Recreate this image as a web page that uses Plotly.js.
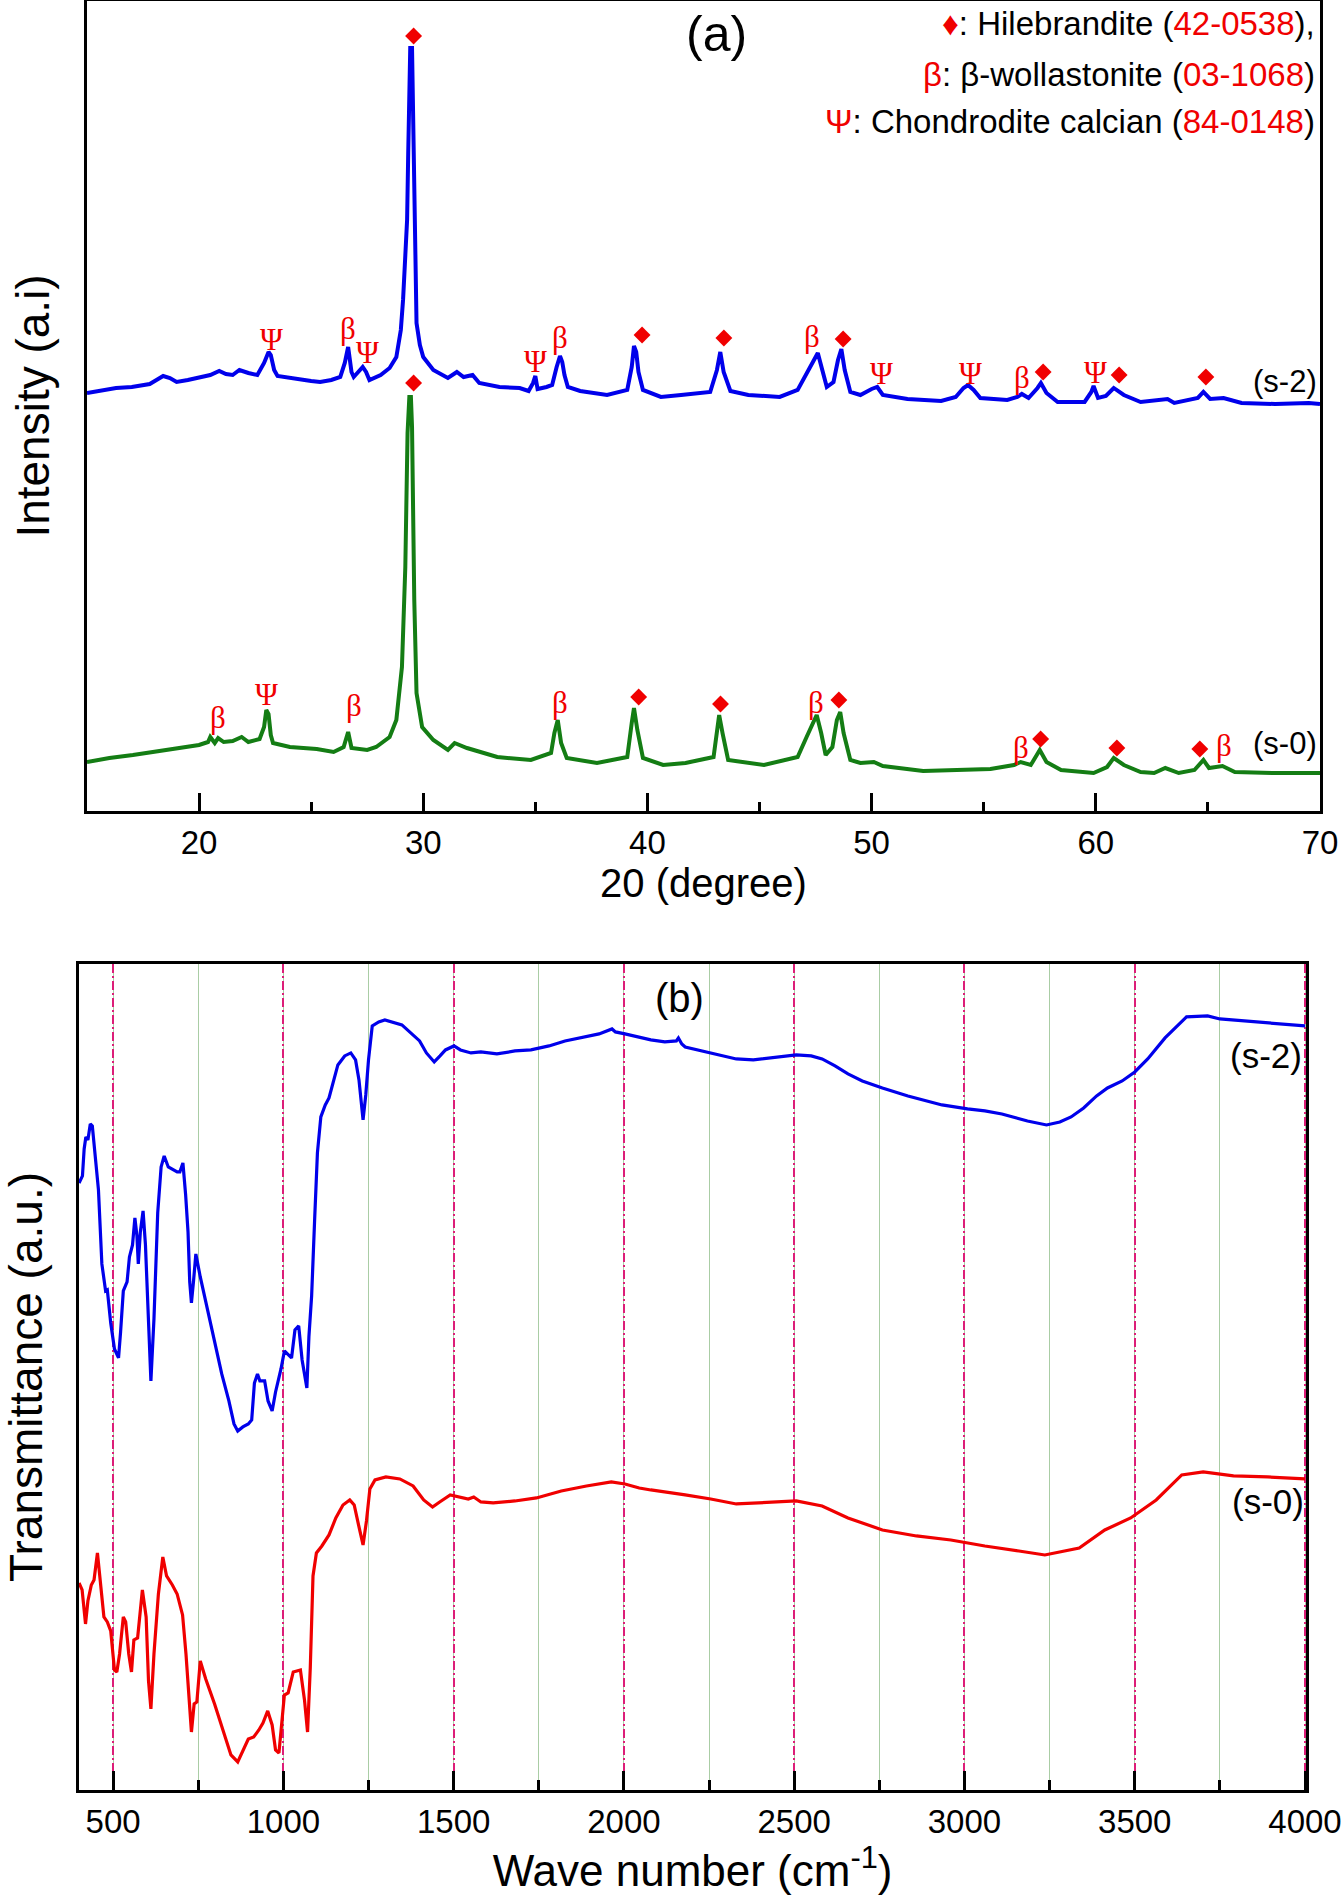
<!DOCTYPE html>
<html>
<head>
<meta charset="utf-8">
<script src="https://cdn.plot.ly/plotly-3.0.1.min.js"></script>
<style>html,body{margin:0;padding:0;background:#fff;}</style>
</head>
<body>
<div id="chart" style="width:1342px;height:1902px;"></div>
<script>
// ---------- Panel (a): XRD ----------
var xrdS2Angle = [15.0,15.6,16.3,17.0,17.8,18.1,18.4,18.7,19.0,19.5,20.0,20.5,20.9,21.2,21.5,21.8,22.2,22.6,22.9,23.1,23.2,23.35,23.5,24.0,24.5,25.0,25.4,25.9,26.3,26.5,26.65,26.8,26.9,27.1,27.3,27.45,27.6,28.1,28.5,28.8,29.0,29.1,29.2,29.28,29.33,29.38,29.42,29.5,29.55,29.6,29.65,29.7,29.85,30.0,30.45,31.1,31.5,31.8,32.2,32.5,33.4,34.3,34.7,34.9,35.0,35.1,35.5,35.75,35.95,36.1,36.2,36.3,36.45,37.0,38.2,39.1,39.3,39.4,39.5,39.6,39.8,40.6,41.5,42.8,43.1,43.25,43.4,43.7,44.5,45.9,46.7,47.1,47.4,47.6,47.8,48.0,48.3,48.5,48.65,48.8,49.05,49.5,50.0,50.25,50.5,51.6,53.1,53.75,54.1,54.3,54.55,54.85,56.05,56.5,56.7,57.0,57.4,57.55,57.8,58.3,59.5,59.8,59.9,60.1,60.45,60.8,61.25,62.0,63.2,63.5,64.55,64.8,65.1,65.7,66.5,68.0,69.5,70.0];
var xrdS2Int = [418,420,423,424,427,431,435,433,429,431,433,436,440,437,436,441,438,436,448,459,456,441,435,433,432,430,429,431,434,448,464,439,434,439,444,439,431,436,443,454,481,511,551,591,658,751,763,763,701,611,531,488,466,454,441,433,439,434,436,428,424,423,420,428,435,422,424,426,444,455,449,436,424,420,416,421,444,465,459,439,421,414,416,419,441,459,439,420,416,414,421,438,449,458,441,424,429,451,462,441,419,416,422,424,416,412,410,414,423,426,421,413,411,414,417,413,423,428,418,409,409,419,425,413,415,423,416,409,412,408,413,419,412,413,408,407,408,407];

var xrdS0Angle = [15.0,16.0,17.05,18.6,20.0,20.4,20.5,20.7,20.85,21.1,21.5,21.9,22.2,22.7,22.9,23.0,23.1,23.2,23.3,24.05,25.25,26.0,26.45,26.65,26.8,27.5,27.9,28.5,28.8,29.05,29.2,29.3,29.38,29.45,29.5,29.6,29.7,29.95,30.45,31.1,31.4,31.95,33.3,34.8,35.7,35.85,36.0,36.15,36.4,37.75,39.1,39.3,39.4,39.55,39.8,40.7,41.7,42.95,43.1,43.2,43.35,43.6,45.2,46.7,47.1,47.4,47.55,47.75,47.95,48.25,48.45,48.6,48.75,49.05,49.5,50.1,50.5,52.3,53.8,55.3,56.35,56.65,57.1,57.4,57.5,57.8,58.45,59.9,60.5,60.8,61.25,62.0,62.6,63.1,63.7,64.4,64.8,65.05,65.65,66.2,67.9,70.0];
var xrdS0Int = [49,53,56,61,66,69,74,68,73,69,70,74,69,72,84,101,97,76,68,64,62,59,64,79,63,61,64,74,91,144,244,378,414,414,384,211,118,84,71,61,68,63,54,51,58,78,91,68,53,48,54,88,103,81,53,46,48,54,84,96,78,51,46,54,74,88,96,78,56,64,91,99,78,51,48,49,45,40,41,42,46,49,46,58,61,49,41,38,44,53,46,39,38,43,38,41,51,43,45,39,38,38];

// Phase labels: H = Hilebrandite (diamond), B = beta-wollastonite, C = Chondrodite calcian
var s2PeakPhase = ['H','C','B','C','C','B','H','H','B','H','C','C','B','H','C','H','H'];
var s2PeakAngle = [29.57,23.24,26.66,27.5,35.0,36.12,39.76,43.41,47.35,48.73,50.43,54.42,56.73,57.65,60.0,61.04,64.91];
var s2PeakLevel = [775,471,482,458,449,473,476,473,474,472,437,437,433,439,438,436,434];

var s0PeakPhase = ['B','C','B','H','B','H','H','B','H','B','H','H','H','B'];
var s0PeakAngle = [20.86,23.0,26.92,29.57,36.09,39.61,43.26,47.54,48.54,56.65,57.54,60.94,64.64,65.7];
var s0PeakLevel = [94,117,106,428,109,114,107,109,111,64,72,63,62,66];

var xrdTickVals = [20,30,40,50,60,70];

// ---------- Panel (b): FTIR ----------
var ftirS2Wave = [400,410,415,420,426,433,439,446,457,467,478,483,493,504,516,522,530,541,548,557,564,570,574,580,588,595,604,611,620,631,641,650,662,677,688,696,705,713,720,725,730,736,743,756,778,803,819,840,855,866,881,897,907,915,924,931,945,955,967,977,993,1003,1014,1024,1034,1045,1055,1062,1069,1075,1083,1092,1100,1110,1123,1134,1149,1160,1180,1198,1212,1222,1234,1242,1250,1261,1280,1298,1348,1380,1400,1420,1443,1460,1476,1501,1520,1551,1580,1627,1680,1727,1780,1827,1880,1927,1965,1975,2003,2040,2079,2120,2154,2160,2170,2180,2255,2330,2380,2431,2506,2550,2582,2620,2658,2700,2759,2834,2934,3009,3060,3110,3185,3241,3280,3313,3350,3388,3420,3463,3500,3538,3589,3652,3714,3750,3790,3890,4000];
var ftirS2Trans = [607,614,641,653,650,666,664,637,600,526,499,500,467,441,432,458,499,508,533,545,572,554,526,558,579,545,462,409,471,577,623,634,623,620,618,618,627,595,558,508,487,508,536,513,480,439,416,389,366,359,363,366,370,407,416,409,409,389,379,398,421,439,435,432,460,464,430,416,402,453,494,572,637,673,685,692,710,725,734,737,730,710,670,695,730,764,768,770,765,755,749,737,728,734,740,744,740,737,738,736,739,740,744,749,753,756,761,758,756,753,750,748,749,752,746,743,737,731,730,732,735,734,731,724,716,709,702,694,685,681,679,676,669,665,668,673,682,694,702,709,718,731,752,773,774,771,770,767,764];

var ftirS0Wave = [400,409,419,426,436,444,454,463,473,483,493,504,511,519,530,537,546,554,561,572,586,597,604,611,620,633,646,657,674,688,704,714,723,730,738,746,756,772,798,825,846,866,881,897,913,928,940,954,967,977,987,1003,1014,1029,1050,1062,1071,1079,1087,1097,1113,1134,1154,1175,1195,1208,1224,1234,1244,1254,1269,1301,1342,1381,1412,1438,1459,1490,1543,1559,1580,1616,1680,1743,1816,1890,1963,2003,2045,2079,2180,2255,2330,2431,2506,2582,2658,2759,2859,2960,3060,3160,3236,3337,3412,3488,3563,3638,3701,3790,3890,4000];
var ftirS0Trans = [207,200,166,189,205,210,237,205,173,168,159,120,118,136,173,168,136,118,150,152,200,173,109,81,136,196,233,214,205,196,175,136,86,58,86,88,129,111,86,58,35,28,40,51,53,60,67,79,65,40,37,95,97,118,120,90,58,122,214,237,244,255,272,285,290,285,260,245,269,301,310,313,311,304,290,283,288,295,291,293,288,287,289,292,299,304,308,306,302,300,295,291,286,288,289,284,272,260,254,250,244,239,235,242,260,272,290,315,318,314,313,311];

var ftirTickVals = [500,1000,1500,2000,2500,3000,3500,4000];

// ---------- Build ----------
var RED = 'rgb(240,0,0)';
var greekFont = {family: 'Liberation Serif, Times New Roman, serif', size: 31, color: RED};
var symbolOf = {B: 'β', C: 'Ψ'};

function diamondsOf(phase, ang, lev) {
  var xs = [], ys = [];
  for (var i = 0; i < phase.length; i++) if (phase[i] === 'H') { xs.push(ang[i]); ys.push(lev[i]); }
  return {x: xs, y: ys};
}
function greekAnnots(phase, ang, lev) {
  var out = [];
  for (var i = 0; i < phase.length; i++) if (phase[i] !== 'H') {
    out.push({x: ang[i], y: lev[i], xref: 'x', yref: 'y', text: symbolOf[phase[i]],
      showarrow: false, font: greekFont, xanchor: 'center', yanchor: 'middle', borderpad: 0});
  }
  return out;
}
var d2 = diamondsOf(s2PeakPhase, s2PeakAngle, s2PeakLevel);
var d0 = diamondsOf(s0PeakPhase, s0PeakAngle, s0PeakLevel);

var traces = [
  {x: xrdS2Angle, y: xrdS2Int, xaxis: 'x', yaxis: 'y', mode: 'lines', name: 's-2',
   line: {color: 'rgb(0,0,235)', width: 4}},
  {x: xrdS0Angle, y: xrdS0Int, xaxis: 'x', yaxis: 'y', mode: 'lines', name: 's-0',
   line: {color: 'rgb(20,125,20)', width: 4}},
  {x: d2.x.concat(d0.x), y: d2.y.concat(d0.y), xaxis: 'x', yaxis: 'y', mode: 'markers',
   name: 'Hilebrandite', marker: {symbol: 'diamond', size: 13, color: RED, line: {width: 0}}},
  {x: ftirS2Wave, y: ftirS2Trans, xaxis: 'x2', yaxis: 'y2', mode: 'lines', name: 's-2 FTIR',
   line: {color: 'rgb(0,0,235)', width: 3.2}},
  {x: ftirS0Wave, y: ftirS0Trans, xaxis: 'x2', yaxis: 'y2', mode: 'lines', name: 's-0 FTIR',
   line: {color: 'rgb(240,0,0)', width: 3.2}}
];

var sansFont = 'Liberation Sans, Arial, Helvetica, sans-serif';
var redSpan = function (t) { return '<span style="color:' + RED + '">' + t + '</span>'; };

var annotations = []
  .concat(greekAnnots(s2PeakPhase, s2PeakAngle, s2PeakLevel))
  .concat(greekAnnots(s0PeakPhase, s0PeakAngle, s0PeakLevel))
  .concat([
    {x: 43.08, y: 777, xref: 'x', yref: 'y', text: '(a)', showarrow: false,
     font: {family: sansFont, size: 50, color: '#000'}},
    {x: 69.87, y: 787, xref: 'x', yref: 'y', xanchor: 'right', showarrow: false,
     text: redSpan('♦') + ': Hilebrandite (' + redSpan('42-0538') + '),',
     font: {family: sansFont, size: 33, color: '#000'}},
    {x: 69.87, y: 736, xref: 'x', yref: 'y', xanchor: 'right', showarrow: false,
     text: redSpan('β') + ': β-wollastonite (' + redSpan('03-1068') + ')',
     font: {family: sansFont, size: 33, color: '#000'}},
    {x: 69.87, y: 689, xref: 'x', yref: 'y', xanchor: 'right', showarrow: false,
     text: redSpan('Ψ') + ': Chondrodite calcian (' + redSpan('84-0148') + ')',
     font: {family: sansFont, size: 33, color: '#000'}},
    {x: 69.96, y: 429, xref: 'x', yref: 'y', xanchor: 'right', showarrow: false, text: '(s-2)',
     font: {family: sansFont, size: 31, color: '#000'}},
    {x: 69.96, y: 68, xref: 'x', yref: 'y', xanchor: 'right', showarrow: false, text: '(s-0)',
     font: {family: sansFont, size: 31, color: '#000'}},
    {x: 2162, y: 792, xref: 'x2', yref: 'y2', text: '(b)', showarrow: false,
     font: {family: sansFont, size: 40, color: '#000'}},
    {x: 3998, y: 734, xref: 'x2', yref: 'y2', xanchor: 'right', showarrow: false, text: '(s-2)',
     font: {family: sansFont, size: 35, color: '#000'}},
    {x: 4002, y: 288, xref: 'x2', yref: 'y2', xanchor: 'right', showarrow: false, text: '(s-0)',
     font: {family: sansFont, size: 35, color: '#000'}}
  ]);

var layout = {
  width: 1342, height: 1902,
  margin: {l: 0, r: 0, t: 0, b: 0},
  paper_bgcolor: '#fff', plot_bgcolor: '#fff',
  showlegend: false,
  font: {family: sansFont, color: '#000'},
  xaxis: {
    domain: [0.0648, 0.9836], anchor: 'y', range: [15, 70],
    showline: true, linewidth: 3, linecolor: '#000', mirror: true,
    tickmode: 'array', tickvals: xrdTickVals, ticktext: xrdTickVals.map(String),
    ticks: 'inside', ticklen: 18, tickwidth: 3, tickcolor: '#000',
    minor: {dtick: 5, tick0: 0, ticks: 'inside', ticklen: 9, tickwidth: 3, tickcolor: '#000'},
    tickfont: {size: 33, family: sansFont}, showgrid: false, zeroline: false,
    title: {text: '20 (degree)', font: {size: 40, family: sansFont}, standoff: 10}
  },
  yaxis: {
    domain: [0.5736, 0.9995], anchor: 'x', range: [0, 810],
    showline: true, linewidth: 3, linecolor: '#000', mirror: true,
    ticks: '', showticklabels: false, showgrid: false, zeroline: false,
    title: {text: 'Intensity (a.i)', font: {size: 46, family: sansFont}, standoff: 20}
  },
  xaxis2: {
    domain: [0.0589, 0.9732], anchor: 'y2', range: [400, 4003],
    showline: true, linewidth: 3, linecolor: '#000', mirror: true,
    tickmode: 'array', tickvals: ftirTickVals, ticktext: ftirTickVals.map(String),
    ticks: 'inside', ticklen: 19, tickwidth: 3, tickcolor: '#000',
    showgrid: true, gridcolor: 'rgb(220,30,120)', gridwidth: 2, griddash: '9px,3px,2px,3px',
    minor: {dtick: 250, tick0: 0, ticks: 'inside', ticklen: 10, tickwidth: 3, tickcolor: '#000',
            showgrid: true, gridcolor: 'rgb(170,205,165)', gridwidth: 1, griddash: 'solid'},
    tickfont: {size: 33, family: sansFont}, zeroline: false,
    title: {text: 'Wave number (cm<sup>-1</sup>)', font: {size: 44, family: sansFont}, standoff: 10}
  },
  yaxis2: {
    domain: [0.0589, 0.4932], anchor: 'x2', range: [0, 826],
    showline: true, linewidth: 3, linecolor: '#000', mirror: true,
    ticks: '', showticklabels: false, showgrid: false, zeroline: false,
    title: {text: 'Transmittance (a.u.)', font: {size: 46, family: sansFont}, standoff: 20}
  },
  annotations: annotations
};

Plotly.newPlot('chart', traces, layout, {displayModeBar: false, staticPlot: true});
</script>
</body>
</html>
